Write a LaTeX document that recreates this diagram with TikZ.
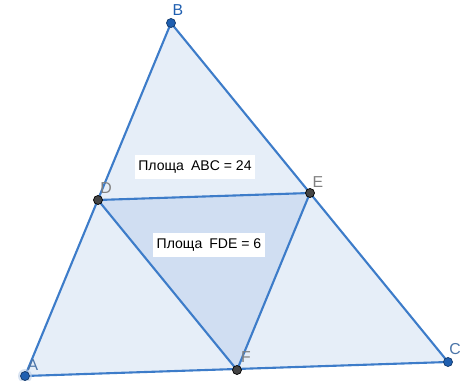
\documentclass[tikz,border=0pt]{standalone}
\usepackage{fontspec}
\setmainfont{Liberation Sans}
\usetikzlibrary{positioning,calc}

\definecolor{geoline}{HTML}{3D7CC9}
\definecolor{geofill}{HTML}{E6EEF8}
\definecolor{geoinner}{HTML}{D0DEF2}
\definecolor{geoblue}{HTML}{1F5FB0}
\definecolor{geogray}{HTML}{444444}
\definecolor{geolabel}{HTML}{4A74A8}

\begin{document}
\begin{tikzpicture}[x=0.02cm,y=-0.02cm, every node/.style={align=center}]
\useasboundingbox (0,0) rectangle (460,381);
\coordinate (A) at (25,376);
\coordinate (B) at (171,23);
\coordinate (C) at (448,362);
\coordinate (D) at (98,200);
\coordinate (E) at (310,193);
\coordinate (F) at (237,370);
\fill[geofill] (A) -- (B) -- (C) -- cycle;
\fill[geoinner] (D) -- (E) -- (F) -- cycle;
\draw[geoline,line width=1.2pt,line join=round] (A) -- (B) -- (C) -- cycle;
\draw[geoline,line width=1.2pt,line join=round] (D) -- (E) -- (F) -- cycle;
\node[fill=white,inner xsep=2pt,inner ysep=3.5pt,font=\fontsize{8}{9}\selectfont] (S1) at (195,167) {Площа\enspace ABC = 24};
\node[fill=white,inner xsep=2pt,inner ysep=3.5pt,font=\fontsize{8}{9}\selectfont] (S2) at (209,245) {Площа\enspace FDE = 6};
\fill[geoblue!30,opacity=0.6] (A) circle (7);
\filldraw[fill=geoblue,draw=geoblue!60!black,line width=0.4pt] (A) circle (4.5) (B) circle (4.5) (C) circle (4.5);
\filldraw[fill=geogray,draw=black,line width=0.4pt] (D) circle (4.5) (E) circle (4.5) (F) circle (4.5);
\node[text=geolabel,font=\fontsize{9}{10}\selectfont] (lA) at (33,365) {A};
\node[text=geoblue,font=\fontsize{9}{10}\selectfont] (lB) at (178,10) {B};
\node[text=geolabel,font=\fontsize{9}{10}\selectfont] (lC) at (455,349) {C};
\node[text=gray,font=\fontsize{9}{10}\selectfont] (lD) at (106,188) {D};
\node[text=gray,font=\fontsize{9}{10}\selectfont] (lE) at (318,182) {E};
\node[text=gray,font=\fontsize{9}{10}\selectfont] (lF) at (246,357) {F};
\end{tikzpicture}
\end{document}
